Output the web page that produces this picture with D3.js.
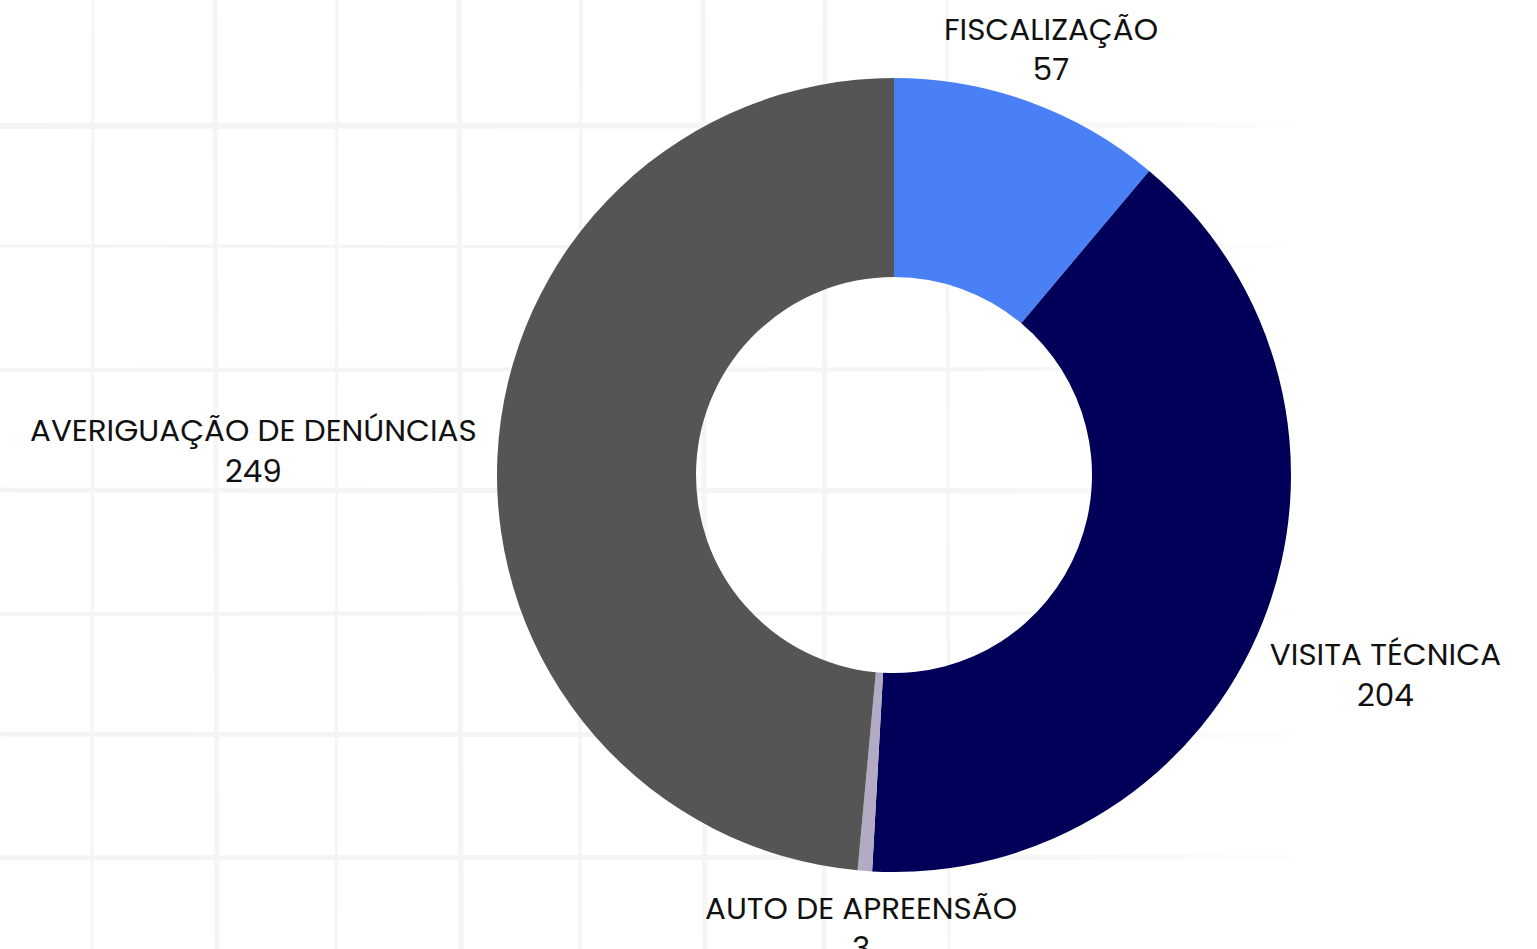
<!DOCTYPE html>
<html lang="pt">
<head>
<meta charset="utf-8" />
<title>Atividades</title>
<script src="https://cdnjs.cloudflare.com/ajax/libs/d3/7.8.5/d3.min.js"></script>
<style>
  body { margin: 0; background: #fff; }
  svg { display: block; }
  .rotulo { font-family: Poppins, Inter, "Open Sans", sans-serif; font-size: 31px; fill: #111; }
</style>
</head>
<body>
<svg width="1537" height="949"></svg>

<script>
// dados
var categorias = ["FISCALIZAÇÃO", "VISITA TÉCNICA", "AUTO DE APREENSÃO", "AVERIGUAÇÃO DE DENÚNCIAS"];
var valores = [57, 204, 3, 249];
var cores = ["#4a80f6", "#000058", "#b3abc4", "#555555"];

var svg = d3.select("svg"),
    width = 1537,
    height = 949,
    cx = 894, cy = 475,
    outerR = 397,
    innerR = 198,
    fonte = 31;

// fundo quadriculado (decorativo)
var defs = svg.append("defs");
var grad = defs.append("linearGradient")
    .attr("id", "fade")
    .attr("gradientUnits", "userSpaceOnUse")
    .attr("x1", 0).attr("x2", 1290).attr("y1", 0).attr("y2", 0);
grad.append("stop").attr("offset", "0.75").attr("stop-color", "#f4f4f4");
grad.append("stop").attr("offset", "1").attr("stop-color", "#fdfdfd");

var grade = svg.append("g").attr("class", "grade");
var larguras = [3, 5, 3, 5, 4, 5, 5, 3];
d3.range(8).forEach(function(i) {
  var x = 93 + i * 122;
  grade.append("line")
      .attr("x1", x).attr("x2", x + (i % 2 ? 2 : -1))
      .attr("y1", 0).attr("y2", height)
      .attr("stroke", "#f5f5f5")
      .attr("stroke-width", larguras[i]);
});
var largurasH = [6, 3, 4, 5, 4, 5, 5];
d3.range(7).forEach(function(i) {
  var y = 125 + i * 122;
  grade.append("line")
      .attr("x1", 0).attr("x2", 1290)
      .attr("y1", y + (i % 2 ? -1 : 1)).attr("y2", y)
      .attr("stroke", "url(#fade)")
      .attr("stroke-width", largurasH[i]);
});

// rosca
var pie = d3.pie().sort(null).value(function(d) { return d; });
var arcs = pie(valores);

var arc = d3.arc()
    .innerRadius(innerR)
    .outerRadius(outerR);

var g = svg.append("g")
    .attr("transform", "translate(" + cx + "," + cy + ")");

g.selectAll("path")
    .data(arcs)
  .enter().append("path")
    .attr("d", arc)
    .attr("fill", function(d, i) { return cores[i]; });

// rótulos fora da rosca
var labelR = 417;
var rot = g.selectAll(".rotulo")
    .data(arcs)
  .enter().append("text")
    .attr("class", "rotulo")
    .attr("text-anchor", "middle");

rot.append("tspan")
    .attr("x", 0)
    .text(function(d, i) { return categorias[i]; });
rot.append("tspan")
    .attr("x", 0)
    .attr("dy", "1.3em")
    .text(function(d) { return d.value; });

rot.each(function(d) {
  var b = this.getBBox();
  var a = (d.startAngle + d.endAngle) / 2,
      s = Math.sin(a), c = Math.cos(a);
  var hVis = b.height - 0.7 * fonte;
  var ext = (b.width / 2) * s * s + (hVis / 2) * Math.abs(c);
  var r = labelR + ext;
  var tx = s * r - (b.x + b.width / 2),
      ty = -c * r - (b.y + b.height / 2) + 5;
  d3.select(this).attr("transform", "translate(" + tx + "," + ty + ")");
});
</script>
</body>
</html>
